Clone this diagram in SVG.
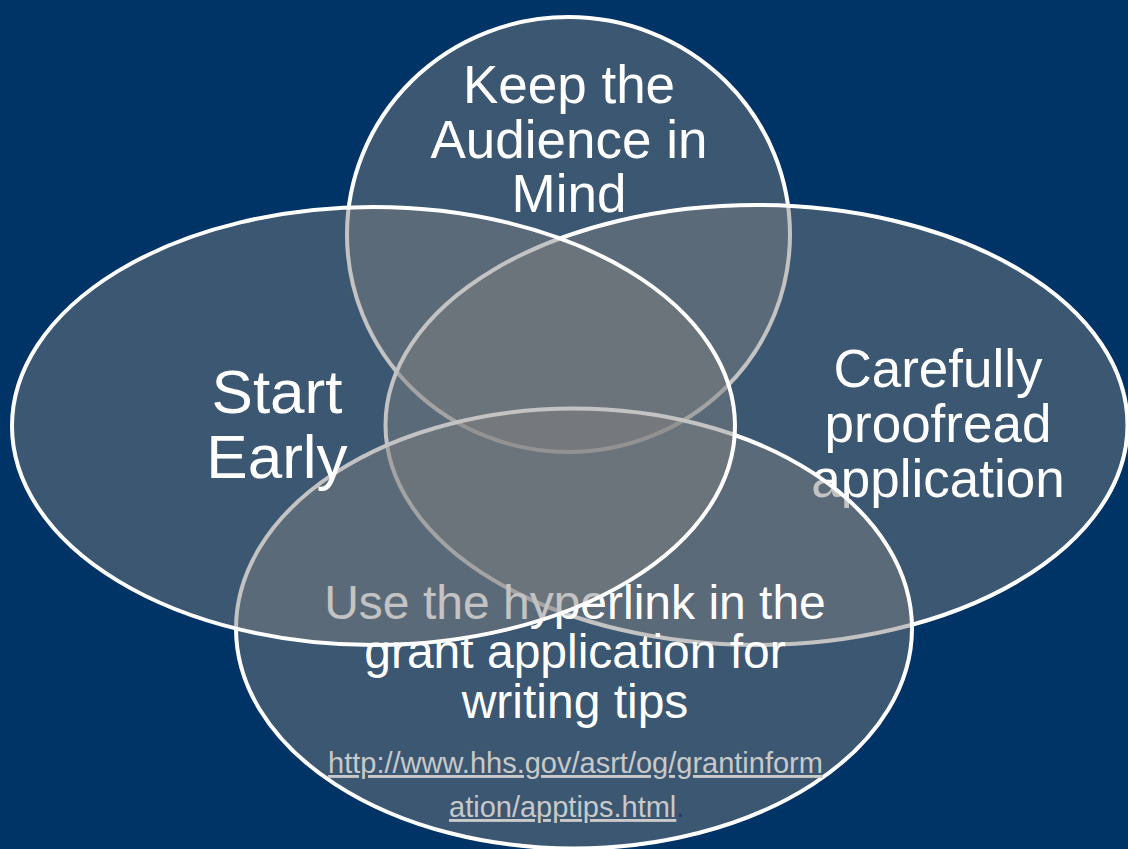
<svg xmlns="http://www.w3.org/2000/svg" width="1128" height="849" viewBox="0 0 1128 849">
<style>
.shape{fill:#808080;fill-opacity:0.47;stroke:#ffffff;stroke-width:4}
.lbl{font-family:"Liberation Sans",Arial,sans-serif;fill:#ffffff;text-anchor:middle}
.url{font-family:"Liberation Sans",Arial,sans-serif;font-size:29px;fill:#c9c9c9;text-decoration:underline}
</style>
<rect x="0" y="0" width="1128" height="849" fill="#003366"/>
<g id="connectors"></g>
<g id="node-audience">
<ellipse class="shape" cx="568.5" cy="234.5" rx="221.5" ry="217.5"/>
<text class="lbl" font-size="53" x="569"><tspan x="569" y="103">Keep the</tspan><tspan x="569" y="158">Audience in</tspan><tspan x="569" y="212">Mind</tspan></text>
</g>
<g id="node-proofread">
<ellipse class="shape" cx="756.5" cy="425" rx="371" ry="220"/>
<text class="lbl" font-size="53" x="938"><tspan x="938" y="387">Carefully</tspan><tspan x="938" y="442">proofread</tspan><tspan x="938" y="497">application</tspan></text>
</g>
<g id="node-hyperlink">
<ellipse class="shape" cx="574" cy="628.5" rx="338" ry="220"/>
<text class="lbl" font-size="48" x="575"><tspan x="575" y="619">Use the hyperlink in the</tspan><tspan x="575" y="668">grant application for</tspan><tspan x="575" y="718">writing tips</tspan></text>
<text class="url" x="575.5" y="773" text-anchor="middle">http://www.hhs.gov/asrt/og/grantinform</text>
<text x="449" y="817" font-family="Liberation Sans,Arial,sans-serif" font-size="29"><tspan class="url">ation/apptips.html</tspan><tspan fill="#1f3a6b">.</tspan></text>
</g>
<g id="node-start">
<ellipse class="shape" cx="373.5" cy="426" rx="361.5" ry="219"/>
<text class="lbl" font-size="62" x="277"><tspan x="277" y="413">Start</tspan><tspan x="277" y="478">Early</tspan></text>
</g>
</svg>
